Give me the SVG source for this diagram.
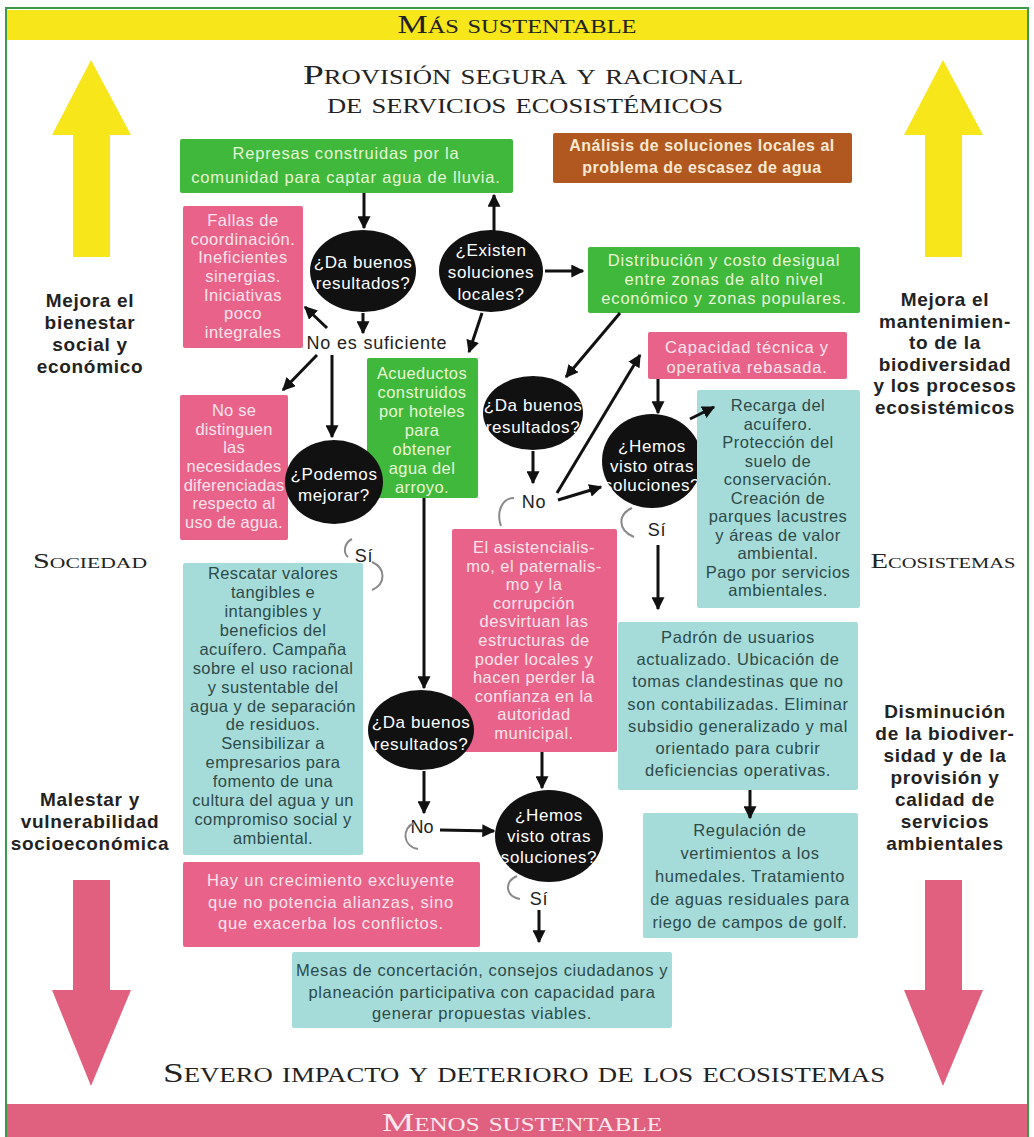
<svg xmlns="http://www.w3.org/2000/svg" width="1034" height="1137" viewBox="0 0 1034 1137">
<defs>
<marker id="ah" viewBox="0 0 10 10" refX="9" refY="5" markerWidth="13" markerHeight="13" markerUnits="userSpaceOnUse" orient="auto">
<path d="M0,0 L10,5 L0,10 z" fill="#111"/>
</marker>
<style>
.sc{font-family:"Liberation Serif",serif;font-variant:small-caps;fill:#222;text-anchor:middle}
.t{font-family:"Liberation Sans",Arial,sans-serif;font-size:16.5px;letter-spacing:0.8px;text-anchor:middle}
.tb{font-family:"Liberation Sans",sans-serif;font-size:16px;letter-spacing:0.5px;font-weight:700;text-anchor:middle;fill:#f8e8d4}
.side{font-family:"Liberation Sans",sans-serif;font-size:19px;letter-spacing:0.7px;font-weight:700;fill:#222;text-anchor:middle}
.lbl{font-family:"Liberation Sans",sans-serif;font-size:18px;letter-spacing:0.8px;fill:#222;text-anchor:middle}
.g rect{fill:#3fb83b}
.g text{fill:#e8f6d6}
.p rect{fill:#e8628a}
.p text{fill:#fde4ec}
.c rect{fill:#a5dcda}
.c text{fill:#2e4a48}
.e ellipse{fill:#111}
.e text{fill:#fff;font-size:17px;letter-spacing:0.6px}
.con line{stroke:#111;stroke-width:3;marker-end:url(#ah)}
.crv path{fill:none;stroke:#8a8a8a;stroke-width:2}
</style>
</defs>
<rect x="0" y="0" width="1034" height="1137" fill="#fff"/>
<rect x="6" y="8" width="1022" height="1128" fill="none" stroke="#3a9a4a" stroke-width="2"/>
<g id="band-top">
<rect x="7" y="10" width="1020" height="30" fill="#f6e61a"/>
<text class="sc" x="517" y="33" font-size="25" textLength="239" lengthAdjust="spacingAndGlyphs">Más sustentable</text>
</g>
<g id="band-bottom">
<rect x="7" y="1104" width="1020" height="33" fill="#e0607f"/>
<text class="sc" x="522" y="1131" font-size="26" style="fill:#fde8ee" textLength="280" lengthAdjust="spacingAndGlyphs">Menos sustentable</text>
</g>
<g id="title">
<text class="sc" x="523" y="84" font-size="28" textLength="440" lengthAdjust="spacingAndGlyphs">Provisión segura y racional</text>
<text class="sc" x="525" y="113" font-size="28" textLength="396" lengthAdjust="spacingAndGlyphs">de servicios ecosistémicos</text>
<text class="sc" x="524" y="1082" font-size="28" textLength="722" lengthAdjust="spacingAndGlyphs">Severo impacto y deterioro de los ecosistemas</text>
</g>
<g id="big-arrows">
<polygon points="91,60 131,135 110,135 110,257 73,257 73,135 52,135" fill="#f6e61a"/>
<polygon points="943,60 983,135 962,135 962,257 925,257 925,135 904,135" fill="#f6e61a"/>
<polygon points="73,880 110,880 110,990 131,990 91,1086 52,990 73,990" fill="#e2607f"/>
<polygon points="925,880 962,880 962,990 983,990 943,1086 904,990 925,990" fill="#e2607f"/>
</g>
<g id="side-labels">
<text class="side"><tspan x="90" y="307">Mejora el</tspan><tspan x="90" y="329">bienestar</tspan><tspan x="90" y="351">social y</tspan><tspan x="90" y="373">económico</tspan></text>
<text class="sc" x="90" y="568" font-size="21" textLength="114" lengthAdjust="spacingAndGlyphs">Sociedad</text>
<text class="side"><tspan x="90" y="806">Malestar y</tspan><tspan x="90" y="828">vulnerabilidad</tspan><tspan x="90" y="850">socioeconómica</tspan></text>
<text class="side"><tspan x="945" y="306">Mejora el</tspan><tspan x="945" y="327.6">mantenimien-</tspan><tspan x="945" y="349.2">to de la</tspan><tspan x="945" y="370.8">biodiversidad</tspan><tspan x="945" y="392.4">y los procesos</tspan><tspan x="945" y="414">ecosistémicos</tspan></text>
<text class="sc" x="943" y="568" font-size="21" textLength="145" lengthAdjust="spacingAndGlyphs">Ecosistemas</text>
<text class="side"><tspan x="945" y="718">Disminución</tspan><tspan x="945" y="740">de la biodiver-</tspan><tspan x="945" y="762">sidad y de la</tspan><tspan x="945" y="784">provisión y</tspan><tspan x="945" y="806">calidad de</tspan><tspan x="945" y="828">servicios</tspan><tspan x="945" y="850">ambientales</tspan></text>
</g>
<g id="represas" class="g">
<rect x="180" y="139" width="333" height="54" rx="2"/>
<text class="t"><tspan x="346" y="159">Represas construidas por la</tspan><tspan x="346" y="183">comunidad para captar agua de lluvia.</tspan></text>
</g>
<g id="analisis">
<rect x="553" y="133" width="299" height="50" rx="2" fill="#b0581f"/>
<text class="tb"><tspan x="702" y="151">Análisis de soluciones locales al</tspan><tspan x="702" y="173">problema de escasez de agua</tspan></text>
</g>
<g id="fallas" class="p">
<rect x="183" y="206" width="120" height="142" rx="2"/>
<text class="t" style="letter-spacing:0.5px"><tspan x="243" y="226">Fallas de</tspan><tspan x="243" y="244.7">coordinación.</tspan><tspan x="243" y="263.3">Ineficientes</tspan><tspan x="243" y="282">sinergias.</tspan><tspan x="243" y="300.7">Iniciativas</tspan><tspan x="243" y="319.3">poco</tspan><tspan x="243" y="338">integrales</tspan></text>
</g>
<g id="dabuenos1" class="e">
<ellipse cx="363" cy="271" rx="53" ry="41"/>
<text class="t"><tspan x="363" y="268">¿Da buenos</tspan><tspan x="363" y="289">resultados?</tspan></text>
</g>
<g id="existen" class="e">
<ellipse cx="491" cy="271" rx="52" ry="41"/>
<text class="t"><tspan x="491" y="256">¿Existen</tspan><tspan x="491" y="278">soluciones</tspan><tspan x="491" y="300">locales?</tspan></text>
</g>
<g id="distribucion" class="g">
<rect x="588" y="247" width="272" height="66" rx="2"/>
<text class="t"><tspan x="724" y="266">Distribución y costo desigual</tspan><tspan x="724" y="285">entre zonas de alto nivel</tspan><tspan x="724" y="304">económico y zonas populares.</tspan></text>
</g>
<g id="no-es-suficiente">
<text class="lbl" x="377" y="349">No es suficiente</text>
</g>
<g id="capacidad" class="p">
<rect x="648" y="332" width="199" height="47" rx="2"/>
<text class="t"><tspan x="747" y="353">Capacidad técnica y</tspan><tspan x="747" y="373">operativa rebasada.</tspan></text>
</g>
<g id="acueductos" class="g">
<rect x="367" y="358" width="111" height="140" rx="2"/>
<text class="t" style="letter-spacing:0.4px"><tspan x="422" y="379">Acueductos</tspan><tspan x="422" y="398">construidos</tspan><tspan x="422" y="417">por hoteles</tspan><tspan x="422" y="436">para</tspan><tspan x="422" y="455">obtener</tspan><tspan x="422" y="474">agua del</tspan><tspan x="422" y="493">arroyo.</tspan></text>
</g>
<g id="nosedistinguen" class="p">
<rect x="180" y="395" width="108" height="145" rx="2"/>
<text class="t" style="letter-spacing:0.2px"><tspan x="234" y="416">No se</tspan><tspan x="234" y="434.7">distinguen</tspan><tspan x="234" y="453.3">las</tspan><tspan x="234" y="472">necesidades</tspan><tspan x="234" y="490.7">diferenciadas</tspan><tspan x="234" y="509.3">respecto al</tspan><tspan x="234" y="528">uso de agua.</tspan></text>
</g>
<g id="podemos" class="e">
<ellipse cx="334" cy="482" rx="49" ry="42"/>
<text class="t"><tspan x="334" y="480">¿Podemos</tspan><tspan x="334" y="501">mejorar?</tspan></text>
</g>
<g id="dabuenos2" class="e">
<ellipse cx="533" cy="413" rx="50" ry="37"/>
<text class="t"><tspan x="533" y="411">¿Da buenos</tspan><tspan x="533" y="433">resultados?</tspan></text>
</g>
<g id="hemos1" class="e">
<ellipse cx="652" cy="461" rx="50" ry="47"/>
<text class="t"><tspan x="652" y="452">¿Hemos</tspan><tspan x="652" y="471.5">visto otras</tspan><tspan x="652" y="491">soluciones?</tspan></text>
</g>
<g id="no2">
<text class="lbl" x="534" y="508" font-size="17">No</text>
</g>
<g id="si1">
<text class="lbl" x="657" y="536" font-size="15">Sí</text>
</g>
<g id="recarga" class="c">
<rect x="697" y="390" width="163" height="218" rx="2"/>
<text class="t" style="letter-spacing:0.5px"><tspan x="778" y="411">Recarga del</tspan><tspan x="778" y="429.5">acuífero.</tspan><tspan x="778" y="448">Protección del</tspan><tspan x="778" y="466.5">suelo de</tspan><tspan x="778" y="485">conservación.</tspan><tspan x="778" y="503.5">Creación de</tspan><tspan x="778" y="522">parques lacustres</tspan><tspan x="778" y="540.5">y áreas de valor</tspan><tspan x="778" y="559">ambiental.</tspan><tspan x="778" y="577.5">Pago por servicios</tspan><tspan x="778" y="596">ambientales.</tspan></text>
</g>
<g id="asistencialismo" class="p">
<rect x="452" y="529" width="165" height="223" rx="2"/>
<text class="t" style="letter-spacing:0.5px"><tspan x="534" y="553">El asistencialis-</tspan><tspan x="534" y="571.6">mo, el paternalis-</tspan><tspan x="534" y="590.2">mo y la</tspan><tspan x="534" y="608.8">corrupción</tspan><tspan x="534" y="627.4">desvirtuan  las</tspan><tspan x="534" y="646">estructuras de</tspan><tspan x="534" y="664.6">poder locales y</tspan><tspan x="534" y="683.2">hacen perder la</tspan><tspan x="534" y="701.8">confianza en la</tspan><tspan x="534" y="720.4">autoridad</tspan><tspan x="534" y="739">municipal.</tspan></text>
</g>
<g id="si-podemos">
<text class="lbl" x="364" y="562" font-size="15">Sí</text>
</g>
<g id="rescatar" class="c">
<rect x="183" y="563" width="180" height="292" rx="2"/>
<text class="t" style="letter-spacing:0.4px"><tspan x="273" y="579">Rescatar valores</tspan><tspan x="273" y="597.9">tangibles e</tspan><tspan x="273" y="616.9">intangibles y</tspan><tspan x="273" y="635.8">beneficios del</tspan><tspan x="273" y="654.7">acuífero. Campaña</tspan><tspan x="273" y="673.6">sobre el uso racional</tspan><tspan x="273" y="692.6">y sustentable del</tspan><tspan x="273" y="711.5">agua y de separación</tspan><tspan x="273" y="730.4">de residuos.</tspan><tspan x="273" y="749.4">Sensibilizar a</tspan><tspan x="273" y="768.3">empresarios para</tspan><tspan x="273" y="787.2">fomento de una</tspan><tspan x="273" y="806.1">cultura del agua y un</tspan><tspan x="273" y="825.1">compromiso social y</tspan><tspan x="273" y="844">ambiental.</tspan></text>
</g>
<g id="padron" class="c">
<rect x="618" y="622" width="240" height="168" rx="2"/>
<text class="t" style="letter-spacing:0.6px"><tspan x="738" y="643">Padrón de usuarios</tspan><tspan x="738" y="665">actualizado. Ubicación de</tspan><tspan x="738" y="687">tomas clandestinas que no</tspan><tspan x="738" y="710">son contabilizadas. Eliminar</tspan><tspan x="738" y="732">subsidio generalizado y mal</tspan><tspan x="738" y="754">orientado para cubrir</tspan><tspan x="738" y="776">deficiencias operativas.</tspan></text>
</g>
<g id="dabuenos3" class="e">
<ellipse cx="421" cy="730" rx="53" ry="40"/>
<text class="t"><tspan x="421" y="728">¿Da buenos</tspan><tspan x="421" y="750">resultados?</tspan></text>
</g>
<g id="regulacion" class="c">
<rect x="643" y="813" width="215" height="125" rx="2"/>
<text class="t" style="letter-spacing:0.6px"><tspan x="750" y="836">Regulación de</tspan><tspan x="750" y="859">vertimientos a los</tspan><tspan x="750" y="882">humedales. Tratamiento</tspan><tspan x="750" y="905">de aguas residuales para</tspan><tspan x="750" y="928">riego de campos de golf.</tspan></text>
</g>
<g id="no3">
<text class="lbl" x="422" y="833" font-size="13" style="letter-spacing:0">No</text>
</g>
<g id="hemos2" class="e">
<ellipse cx="549" cy="836" rx="54" ry="46"/>
<text class="t"><tspan x="549" y="821">¿Hemos</tspan><tspan x="549" y="842">visto otras</tspan><tspan x="549" y="863">soluciones?</tspan></text>
</g>
<g id="si3">
<text class="lbl" x="539" y="905" font-size="15">Sí</text>
</g>
<g id="hayun" class="p">
<rect x="183" y="862" width="297" height="85" rx="2"/>
<text class="t"><tspan x="331" y="886">Hay un crecimiento excluyente</tspan><tspan x="331" y="908">que no potencia alianzas, sino</tspan><tspan x="331" y="929">que exacerba los conflictos.</tspan></text>
</g>
<g id="mesas" class="c">
<rect x="292" y="952" width="380" height="76" rx="2"/>
<text class="t" style="letter-spacing:0.6px"><tspan x="482" y="976">Mesas de concertación, consejos ciudadanos y</tspan><tspan x="482" y="998">planeación participativa con capacidad para</tspan><tspan x="482" y="1019">generar propuestas viables.</tspan></text>
</g>
<g id="curves" class="crv">
<path d="M514,498 C502,498 496,512 501,526"/>
<path d="M632,508 C618,514 617,530 634,537"/>
<path d="M352,539 C344,543 343,553 348,557"/>
<path d="M372,562 C386,568 386,584 372,590"/>
<path d="M414,823 C402,828 402,846 418,849"/>
<path d="M517,876 C504,882 505,896 520,899"/>
</g>
<g id="connectors" class="con">
<line x1="364" y1="193" x2="364" y2="228"/>
<line x1="494" y1="231" x2="494" y2="195"/>
<line x1="545" y1="271" x2="583" y2="271"/>
<line x1="363" y1="313" x2="363" y2="333"/>
<line x1="327" y1="328" x2="305" y2="307"/>
<line x1="482" y1="313" x2="469" y2="352"/>
<line x1="317" y1="355" x2="283" y2="390"/>
<line x1="332" y1="355" x2="332" y2="437"/>
<line x1="620" y1="313" x2="566" y2="377"/>
<line x1="533" y1="451" x2="533" y2="483"/>
<line x1="557" y1="493" x2="640" y2="355"/>
<line x1="558" y1="500" x2="601" y2="487"/>
<line x1="658" y1="379" x2="658" y2="413"/>
<line x1="690" y1="419" x2="714" y2="407"/>
<line x1="658" y1="545" x2="658" y2="609"/>
<line x1="750" y1="790" x2="750" y2="818"/>
<line x1="424" y1="498" x2="424" y2="688"/>
<line x1="542" y1="752" x2="542" y2="788"/>
<line x1="424" y1="771" x2="424" y2="813"/>
<line x1="440" y1="830" x2="494" y2="831"/>
<line x1="539" y1="910" x2="539" y2="942"/>
</g>
</svg>
